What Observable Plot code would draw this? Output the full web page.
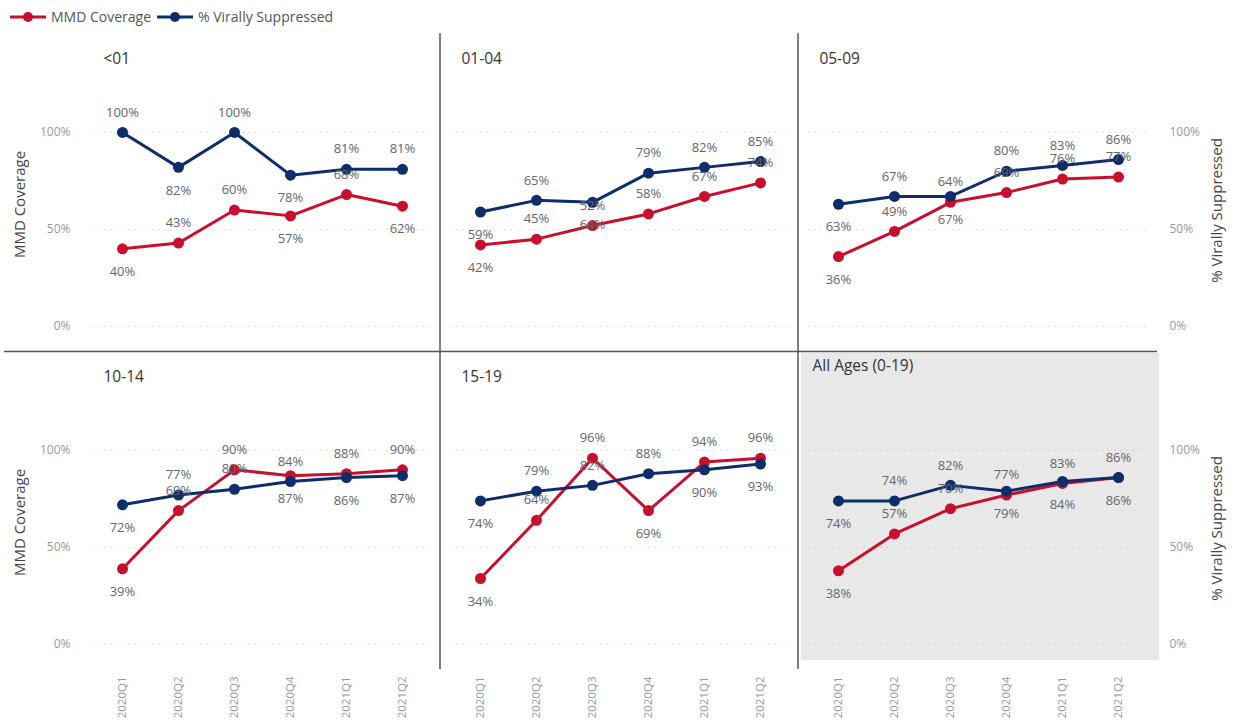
<!DOCTYPE html>
<html>
<head>
<meta charset="utf-8">
<script src="https://cdn.jsdelivr.net/npm/d3@7"></script>
<script src="https://cdn.jsdelivr.net/npm/@observablehq/plot@0.6"></script>
<style>
  body { margin: 0; background: #fff; font-family: "Segoe UI", "Open Sans", sans-serif; }
  #legend { height: 33px; display: flex; align-items: center; padding-left: 10px; font-size: 14px; color: #555; }
  #legend .item { display: flex; align-items: center; }
  #legend .item:first-child { width: 147px; }
  #legend svg { margin-right: 5px; }
</style>
</head>
<body>
<div id="legend"></div>
<div id="chart"></div>
<script>
// Quarters on the x axis of every panel
const quarters = ["2020Q1", "2020Q2", "2020Q3", "2020Q4", "2021Q1", "2021Q2"];

// Age bands, one panel each (read left to right, top to bottom)
const panels = ["<01", "01-04", "05-09", "10-14", "15-19", "All Ages (0-19)"];
const allAges = "All Ages (0-19)";

const seriesNames = ["MMD Coverage", "% Virally Suppressed"];

// MMD coverage (%) per panel, per quarter
const mmdCoverage = [
  [40, 43, 60, 57, 68, 62],
  [42, 45, 52, 58, 67, 74],
  [36, 49, 64, 69, 76, 77],
  [39, 69, 90, 87, 88, 90],
  [34, 64, 96, 69, 94, 96],
  [38, 57, 70, 77, 83, 86]
];

// Share virally suppressed (%) per panel, per quarter
const viralSuppression = [
  [100, 82, 100, 78, 81, 81],
  [59, 65, 64, 79, 82, 85],
  [63, 67, 67, 80, 83, 86],
  [72, 77, 80, 84, 86, 87],
  [74, 79, 82, 88, 90, 93],
  [74, 74, 82, 79, 84, 86]
];

// Which side of its point each data label sits on: "a" above, "b" below
const mmdLabelSide = [
  ["b", "a", "a", "b", "a", "b"],
  ["b", "a", "a", "a", "a", "a"],
  ["b", "a", "a", "a", "a", "a"],
  ["b", "a", "a", "b", "a", "a"],
  ["b", "a", "a", "b", "a", "a"],
  ["b", "a", "a", "a", "a", "a"]
];
const vsLabelSide = [
  ["a", "b", "a", "b", "a", "a"],
  ["b", "a", "b", "a", "a", "a"],
  ["b", "a", "b", "a", "a", "a"],
  ["b", "a", "a", "a", "b", "b"],
  ["b", "a", "a", "a", "b", "b"],
  ["b", "a", "a", "b", "b", "b"]
];

const RED = "#c8102e";
const BLUE = "#0d2d6b";
const Y_MIN = -12.9, Y_MAX = 151;

// Long table: one row per panel, quarter and series
const rows = [];
panels.forEach((panel, i) => {
  const col = i % 3, row = Math.floor(i / 3);
  quarters.forEach((quarter, j) => {
    rows.push({panel, col, row, quarter, series: seriesNames[0], value: mmdCoverage[i][j], side: mmdLabelSide[i][j]});
  });
  quarters.forEach((quarter, j) => {
    rows.push({panel, col, row, quarter, series: seriesNames[1], value: viralSuppression[i][j], side: vsLabelSide[i][j]});
  });
});
const panelInfo = panels.map((panel, i) => ({panel, col: i % 3, row: Math.floor(i / 3)}));

// Legend
const legend = document.getElementById("legend");
[[seriesNames[0], RED], [seriesNames[1], BLUE]].forEach(([name, color]) => {
  const item = document.createElement("div");
  item.className = "item";
  item.innerHTML = `<svg width="36" height="14"><line x1="0" y1="7" x2="36" y2="7" stroke="${color}" stroke-width="3"/><circle cx="18" cy="7" r="5" fill="${color}"/></svg><span>${name}</span>`;
  legend.appendChild(item);
});

const facetKeys = {fx: "col", fy: "row"};
const labelFont = {fontSize: 13, fill: "#666"};
const divider = {stroke: "#555", strokeWidth: 1.5};

const chart = Plot.plot({
  width: 1235,
  height: 688,
  marginLeft: 92,
  marginRight: 87,
  marginTop: 0,
  marginBottom: 52,
  facet: {marginTop: 0, marginRight: 0, marginBottom: 0, marginLeft: 0},
  fx: {domain: [0, 1, 2], paddingInner: 0.053, paddingOuter: 0, axis: null},
  fy: {domain: [0, 1], padding: 0, axis: null},
  x: {type: "point", domain: quarters, padding: 0.5},
  y: {domain: [Y_MIN, Y_MAX]},
  color: {domain: seriesNames, range: [RED, BLUE]},
  style: {fontFamily: "'Segoe UI', 'Open Sans', sans-serif", background: "transparent", overflow: "visible"},
  marks: [
    // grey background of the all-ages panel
    Plot.rect(panelInfo.filter(d => d.panel === allAges), {
      ...facetKeys, fill: "#e8e8e8",
      insetLeft: -7, insetRight: -12, insetTop: 2, insetBottom: 9
    }),
    Plot.gridY({ticks: [0, 50, 100], stroke: "#999", strokeOpacity: 0.25, strokeDasharray: "2,4"}),
    // panel dividers
    Plot.ruleX(panelInfo.filter(d => d.col < 2), {
      ...facetKeys, x: () => quarters[quarters.length - 1], dx: 37.5, ...divider
    }),
    Plot.ruleY(panelInfo.filter(d => d.row === 0 && d.col > 0), {
      ...facetKeys, y: () => Y_MIN, insetLeft: -10, insetRight: -10, ...divider
    }),
    Plot.ruleY(panelInfo.filter(d => d.row === 0 && d.col === 0), {
      ...facetKeys, y: () => Y_MIN, insetLeft: -88, insetRight: -10, ...divider
    }),
    // axes
    Plot.axisY({anchor: "left", ticks: [0, 50, 100], tickFormat: d => d + "%", tickSize: 0, tickPadding: 22, label: null, fontSize: 12, color: "#999"}),
    Plot.axisY({anchor: "right", ticks: [0, 50, 100], tickFormat: d => d + "%", tickSize: 0, tickPadding: 22, label: null, fontSize: 12, color: "#999"}),
    Plot.axisX({anchor: "bottom", tickRotate: -90, tickSize: 0, tickPadding: 7, label: null, fontSize: 11.5, color: "#999"}),
    Plot.text(panelInfo.filter(d => d.col === 0), {
      ...facetKeys, text: () => seriesNames[0], frameAnchor: "left", textAnchor: "middle",
      rotate: -90, dx: -72, dy: 12, fontSize: 15, fill: "#444"
    }),
    Plot.text(panelInfo.filter(d => d.col === 2), {
      ...facetKeys, text: () => seriesNames[1], frameAnchor: "right", textAnchor: "middle",
      rotate: -90, dx: 70, dy: 18, fontSize: 15, fill: "#444"
    }),
    // panel titles
    Plot.text(panelInfo.filter(d => d.panel !== allAges), {
      ...facetKeys, text: "panel", frameAnchor: "top-left", dx: 11, dy: 19, fontSize: 15.5, fill: "#333"
    }),
    Plot.text(panelInfo.filter(d => d.panel === allAges), {
      ...facetKeys, text: "panel", frameAnchor: "top-left", dx: 4, dy: 8, fontSize: 15.5, fill: "#333"
    }),
    // series
    Plot.line(rows, {...facetKeys, x: "quarter", y: "value", z: "series", stroke: "series", strokeWidth: 3}),
    Plot.dot(rows, {...facetKeys, x: "quarter", y: "value", fill: "series", r: 5.5}),
    // data labels
    Plot.text(rows.filter(d => d.side === "a"), {...facetKeys, x: "quarter", y: "value", text: d => d.value + "%", dy: -20, ...labelFont}),
    Plot.text(rows.filter(d => d.side === "b"), {...facetKeys, x: "quarter", y: "value", text: d => d.value + "%", dy: 23, ...labelFont})
  ]
});
document.getElementById("chart").appendChild(chart);
</script>
</body>
</html>
